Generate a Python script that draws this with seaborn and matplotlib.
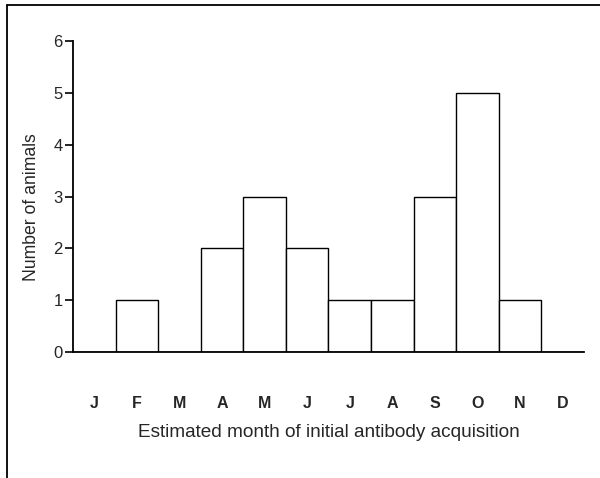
import numpy as np
import pandas as pd
import matplotlib
matplotlib.use('Agg')
import matplotlib.pyplot as plt
from matplotlib.lines import Line2D
import seaborn as sns

# data
months = ['Jan', 'Feb', 'Mar', 'Apr', 'May', 'Jun',
          'Jul', 'Aug', 'Sep', 'Oct', 'Nov', 'Dec']
month_labels = ['J', 'F', 'M', 'A', 'M', 'J', 'J', 'A', 'S', 'O', 'N', 'D']
animals = [0, 1, 0, 2, 3, 2, 1, 1, 3, 5, 1, 0]

ds = pd.DataFrame({'month': months, 'animals': animals})

sns.set_style('ticks')
plt.rcParams['font.family'] = ['Liberation Sans', 'DejaVu Sans']

fig = plt.figure(figsize=(6, 4.78), dpi=100)
ax = fig.add_axes([0.1217, 0.2636, 0.8513, 0.6506])

sns.barplot(data=ds, x='month', y='animals', order=months, color='white',
            edgecolor='black', linewidth=1.0, width=1.0, saturation=1, ax=ax)

ax.set_xlim(-0.5, 11.5)
ax.set_ylim(0, 6)
ax.set_yticks(range(0, 7))
ax.set_xticks(range(len(months)))
ax.set_xticklabels(month_labels, fontsize=11.5, fontweight='bold')
ax.tick_params(axis='x', length=0, pad=32)
ax.tick_params(axis='y', length=6, width=1.2, labelsize=12, pad=1.5, color='black')
ax.set_xlabel('Estimated month of initial antibody acquisition', fontsize=13.7, labelpad=9)
ax.set_ylabel('Number of animals', fontsize=12.7)
ax.yaxis.set_label_coords(-0.065, 0.466)

sns.despine(ax=ax)
for s in ['left', 'bottom']:
    ax.spines[s].set_linewidth(1.3)
    ax.spines[s].set_color('black')

# partial frame round the figure (top and left)
fig.add_artist(Line2D([7/600, 1.0], [1 - 5/478, 1 - 5/478], color='black', lw=1.3))
fig.add_artist(Line2D([7/600, 7/600], [0, 1 - 5/478], color='black', lw=1.3))

fig.savefig('out.png', dpi=100)
